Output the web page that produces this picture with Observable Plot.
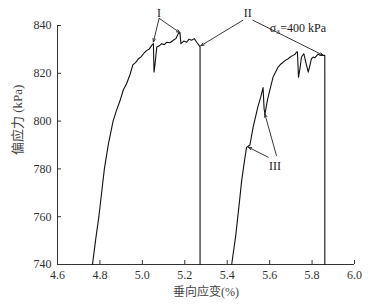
<!DOCTYPE html>
<html>
<head>
<meta charset="utf-8">
<script src="https://cdn.jsdelivr.net/npm/d3@7"></script>
<script src="https://cdn.jsdelivr.net/npm/@observablehq/plot@0.6"></script>
<style>
  html, body { margin: 0; padding: 0; background: #fff; }
  #chart svg { display: block; }
</style>
</head>
<body>
<div id="chart"></div>
<script>
// Axis ticks
const xTicks = [4.6, 4.8, 5.0, 5.2, 5.4, 5.6, 5.8, 6.0];
const yTicks = [740, 760, 780, 800, 820, 840];

// Test 1 (left curve): vertical strain (%) and deviatoric stress (kPa)
const strain1 = [4.765, 4.78, 4.795, 4.808, 4.821, 4.84, 4.862, 4.878, 4.895, 4.91, 4.925, 4.942, 4.955, 4.968, 4.981, 4.995, 5.008, 5.021, 5.033, 5.044, 5.052, 5.055, 5.06, 5.068, 5.08, 5.091, 5.103, 5.115, 5.13, 5.146, 5.158, 5.169, 5.177, 5.182, 5.195, 5.209, 5.22, 5.232, 5.245, 5.256, 5.265, 5.272, 5.272];
const stress1 = [740, 750.5, 760, 770, 780, 790.5, 800, 804.5, 808.6, 813, 815.5, 819.5, 823.5, 824.5, 826, 827, 828.5, 829.6, 830.2, 831.7, 832.4, 820.5, 824, 831, 831.5, 832.4, 832, 833, 832.8, 833.8, 834.5, 836.6, 837, 832.4, 833.5, 833, 834.3, 833.8, 834.5, 833, 832, 831, 740];

// Test 2 (right curve)
const strain2 = [5.421, 5.44, 5.455, 5.468, 5.48, 5.491, 5.499, 5.507, 5.522, 5.534, 5.546, 5.558, 5.569, 5.574, 5.578, 5.582, 5.59, 5.601, 5.616, 5.628, 5.64, 5.652, 5.664, 5.676, 5.687, 5.7, 5.711, 5.72, 5.727, 5.731, 5.736, 5.743, 5.75, 5.761, 5.772, 5.782, 5.797, 5.805, 5.813, 5.82, 5.828, 5.84, 5.852, 5.86, 5.86];
const stress2 = [740, 752, 764, 775, 782.5, 789, 789.5, 790, 797.4, 802, 806.5, 810, 814, 805, 803, 805, 809, 813, 818.4, 820.5, 822.6, 823.8, 824.7, 825.5, 826.1, 827, 827.5, 828, 828.9, 829, 818.4, 822, 826.8, 828.2, 824, 820.5, 826, 826.8, 826.5, 827.2, 828, 827.5, 827.5, 827.5, 740];

// Annotation labels and arrows (data coordinates)
const labels = [
  {text: "I", x: 5.079, y: 845.3, anchor: "middle"},
  {text: "II", x: 5.497, y: 845.0, anchor: "middle"},
  {text: "III", x: 5.625, y: 781.2, anchor: "middle"},
  {text: "σ\u2083=400 kPa", x: 5.733, y: 838.8, anchor: "start"}
];
const arrows = [
  {x1: 5.079, y1: 843.0, x2: 5.052, y2: 833.1},
  {x1: 5.079, y1: 843.0, x2: 5.177, y2: 837.0},
  {x1: 5.474, y1: 842.2, x2: 5.275, y2: 831.5},
  {x1: 5.521, y1: 842.2, x2: 5.853, y2: 827.5},
  {x1: 5.593, y1: 784.9, x2: 5.499, y2: 789.1},
  {x1: 5.632, y1: 785.6, x2: 5.577, y2: 803.1}
];

const xLabel = "垂向应变(%)";
const yLabel = "偏应力 (kPa)";

const rows = [
  ...strain1.map((s, i) => ({test: "1", strain: s, stress: stress1[i]})),
  ...strain2.map((s, i) => ({test: "2", strain: s, stress: stress2[i]}))
];

const font = "'Liberation Serif', 'Noto Sans CJK SC', serif";

const chart = Plot.plot({
  width: 383,
  height: 305,
  marginLeft: 57,
  marginRight: 29,
  marginTop: 25,
  marginBottom: 41,
  style: {fontFamily: font, fontSize: "12px", color: "#333", background: "#fff"},
  x: {domain: [4.6, 6.0]},
  y: {domain: [740, 840]},
  marks: [
    Plot.axisX({ticks: xTicks, tickSize: -4, tickPadding: 10, tickFormat: d3.format(".1f"), label: null, fontSize: 12, stroke: "#333"}),
    Plot.axisY({ticks: yTicks, tickSize: -4, tickPadding: 10, tickFormat: d3.format("d"), label: null, fontSize: 12, stroke: "#333"}),
    Plot.ruleX([4.6], {stroke: "#333", strokeWidth: 1}),
    Plot.ruleY([740], {stroke: "#333", strokeWidth: 1}),
    Plot.line(rows, {x: "strain", y: "stress", z: "test", stroke: "#111", strokeWidth: 1.1, curve: "linear"}),
    Plot.arrow(arrows, {x1: "x1", y1: "y1", x2: "x2", y2: "y2", stroke: "#222", strokeWidth: 0.9, headLength: 6, headAngle: 40}),
    Plot.text(labels, {x: "x", y: "y", text: "text", textAnchor: "anchor", fontSize: 12, fill: "#222", fontFamily: font}),
    Plot.text([xLabel], {frameAnchor: "bottom", dy: 31, fontSize: 12, fill: "#444", fontFamily: font}),
    Plot.text([yLabel], {frameAnchor: "left", dx: -40, dy: 10, rotate: -90, fontSize: 13, fill: "#444", fontFamily: font})
  ]
});

document.getElementById("chart").appendChild(chart);
</script>
</body>
</html>
